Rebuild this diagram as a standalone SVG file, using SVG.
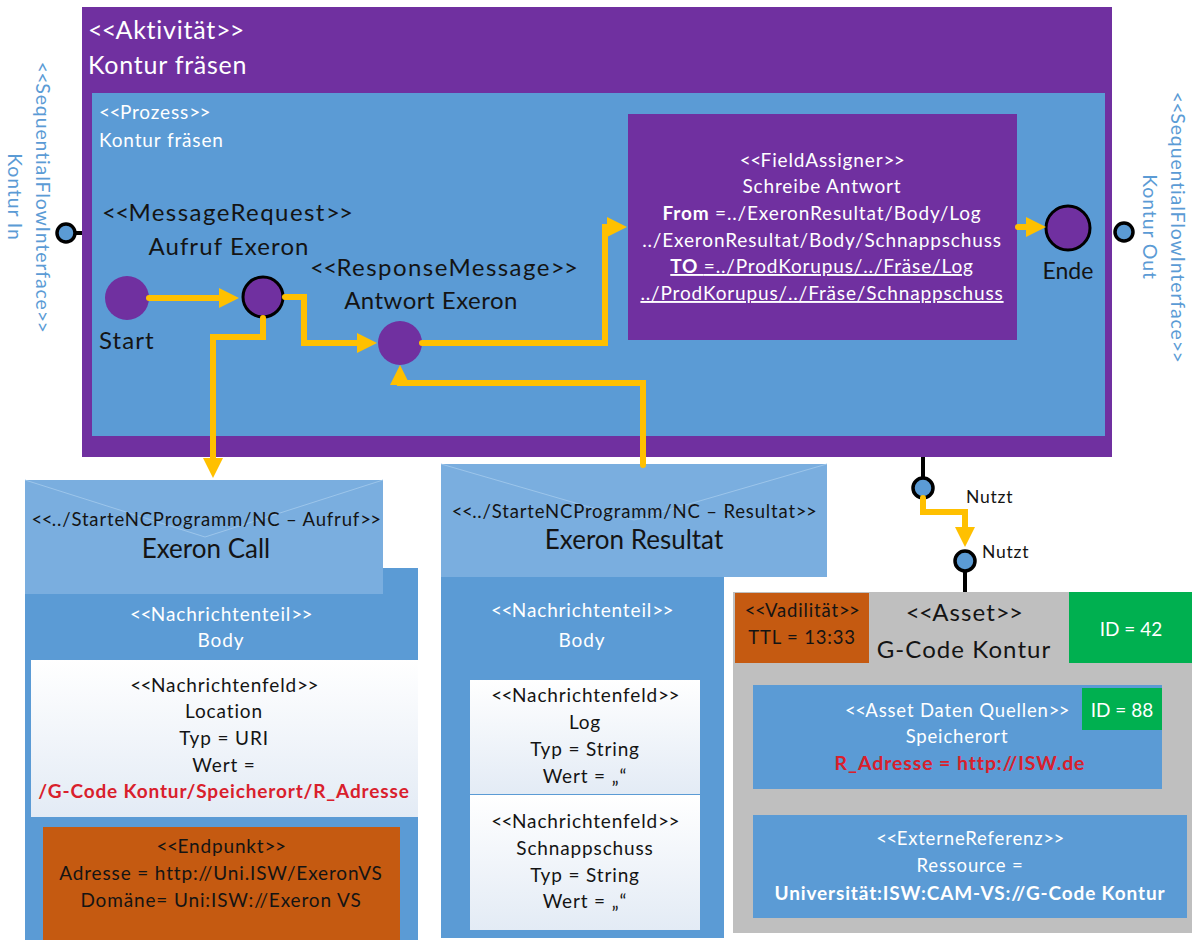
<svg xmlns="http://www.w3.org/2000/svg" width="1192" height="940" viewBox="0 0 1192 940">
  <defs>
    <style>
      text { font-family: Lato, "Liberation Sans", "Noto Sans", sans-serif; letter-spacing: 0.045em; }
      .b { letter-spacing: -0.03em; }
      .w { fill: #ffffff; }
      .d { fill: #141414; }
      .side { fill: #5B9BD5; font-size: 19.5px; }
      .c { text-anchor: middle; }
      .tight { letter-spacing: 0; }
      .flow { fill: none; stroke: #FFC000; stroke-width: 6; stroke-linecap: round; stroke-linejoin: miter; }
      .stub { stroke: #000; stroke-width: 4; }
      .port { fill: #5B9BD5; stroke: #000; stroke-width: 3.5; }
      .purple { fill: #7030A0; }
      .blue { fill: #5B9BD5; }
      .env { fill: #7AAEDF; }
      .flap { fill: none; stroke: #9CC5EA; stroke-width: 1; }
      .orange { fill: #C55A11; }
      .green { fill: #00B050; }
      .red { fill: #D9202C; font-weight: bold; }
    </style>
    <marker id="arrow" viewBox="0 0 20 20" markerWidth="20" markerHeight="20" refX="4" refY="10" markerUnits="userSpaceOnUse" orient="auto">
      <path d="M0,0 L20,10 L0,20 z" fill="#FFC000"/>
    </marker>
    <linearGradient id="field" x1="0" y1="0" x2="0" y2="1">
      <stop offset="0" stop-color="#FFFFFF"/>
      <stop offset="1" stop-color="#E3EBF5"/>
    </linearGradient>
  </defs>

  <rect width="1192" height="940" fill="#ffffff"/>

  <!-- Activity frame with nested process -->
  <g id="aktivitaet">
    <rect class="purple" x="82" y="7" width="1030" height="450"/>
    <text class="w" x="88" y="39" font-size="25" style="letter-spacing:0.03em"><tspan class="b">&lt;&lt;</tspan>Aktivität<tspan class="b">&gt;&gt;</tspan></text>
    <text class="w" x="88" y="74" font-size="25" style="letter-spacing:0.03em">Kontur fräsen</text>
  </g>
  <g id="prozess">
    <rect class="blue" x="92" y="93" width="1013" height="343"/>
    <text class="w" x="99" y="119" font-size="19"><tspan class="b">&lt;&lt;</tspan>Prozess<tspan class="b">&gt;&gt;</tspan></text>
    <text class="w" x="99" y="147" font-size="19">Kontur fräsen</text>
  </g>

  <!-- Interfaces -->
  <g id="interface-in">
    <line class="stub" x1="74" y1="233" x2="82" y2="233"/>
    <circle class="port" cx="66" cy="233" r="9"/>
    <text class="side c" transform="translate(36,197) rotate(90)"><tspan class="b">&lt;&lt;</tspan>SequentialFlowInterface<tspan class="b">&gt;&gt;</tspan></text>
    <text class="side c" transform="translate(8,197) rotate(90)">Kontur In</text>
  </g>
  <g id="interface-out">
    <circle class="port" cx="1124" cy="232" r="9"/>
    <text class="side c" transform="translate(1171,227) rotate(90)"><tspan class="b">&lt;&lt;</tspan>SequentialFlowInterface<tspan class="b">&gt;&gt;</tspan></text>
    <text class="side c" transform="translate(1143,227) rotate(90)">Kontur Out</text>
  </g>

  <!-- Process nodes -->
  <g id="start">
    <circle class="purple" cx="127" cy="298" r="22"/>
    <text class="d" x="99" y="349" font-size="24">Start</text>
  </g>
  <g id="aufruf-exeron">
    <circle class="purple" cx="263" cy="297" r="20" stroke="#000" stroke-width="3"/>
    <text class="d" x="102" y="221" font-size="24" style="letter-spacing:0.06em"><tspan class="b">&lt;&lt;</tspan>MessageRequest<tspan class="b">&gt;&gt;</tspan></text>
    <text class="d c" x="229" y="255" font-size="24">Aufruf Exeron</text>
  </g>
  <g id="antwort-exeron">
    <circle class="purple" cx="400" cy="343" r="22"/>
    <text class="d" x="310" y="276" font-size="24" style="letter-spacing:0.06em"><tspan class="b">&lt;&lt;</tspan>ResponseMessage<tspan class="b">&gt;&gt;</tspan></text>
    <text class="d c" x="431" y="309" font-size="24" style="letter-spacing:0.02em">Antwort Exeron</text>
  </g>
  <g id="schreibe-antwort">
    <rect class="purple" x="628" y="114" width="389" height="226"/>
    <text class="w c" x="822" y="167" font-size="19"><tspan class="b">&lt;&lt;</tspan>FieldAssigner<tspan class="b">&gt;&gt;</tspan></text>
    <text class="w c" x="822" y="193" font-size="19">Schreibe Antwort</text>
    <text class="w c" x="822" y="220" font-size="19"><tspan font-weight="bold">From </tspan>=../ExeronResultat/Body/Log</text>
    <text class="w c" x="822" y="247" font-size="19">../ExeronResultat/Body/Schnappschuss</text>
    <text class="w c" x="822" y="273" font-size="19" text-decoration="underline"><tspan font-weight="bold">TO </tspan>=../ProdKorupus/../Fräse/Log</text>
    <text class="w c" x="822" y="300" font-size="19" text-decoration="underline">../ProdKorupus/../Fräse/Schnappschuss</text>
  </g>
  <g id="ende">
    <circle class="purple" cx="1068" cy="228" r="22" stroke="#000" stroke-width="3"/>
    <text class="d c tight" x="1068" y="279" font-size="23">Ende</text>
  </g>

  <!-- Message: Exeron Call -->
  <g id="exeron-call">
    <rect class="blue" x="25" y="568" width="393" height="372"/>
    <rect class="env" x="25" y="480" width="358" height="114"/>
    <polyline class="flap" points="25,480 205,537 383,480"/>
    <text class="d c" x="206" y="526" font-size="18.5"><tspan class="b">&lt;&lt;</tspan>../StarteNCProgramm/NC – Aufruf<tspan class="b">&gt;&gt;</tspan></text>
    <text class="d c tight" x="206" y="558" font-size="26">Exeron Call</text>
    <text class="w c" x="221" y="621" font-size="19"><tspan class="b">&lt;&lt;</tspan>Nachrichtenteil<tspan class="b">&gt;&gt;</tspan></text>
    <text class="w c" x="221" y="647" font-size="19">Body</text>
  </g>
  <g id="feld-location">
    <rect x="31" y="660" width="387" height="157" fill="url(#field)"/>
    <text class="d c" x="224" y="692" font-size="19"><tspan class="b">&lt;&lt;</tspan>Nachrichtenfeld<tspan class="b">&gt;&gt;</tspan></text>
    <text class="d c" x="224" y="718" font-size="19">Location</text>
    <text class="d c" x="224" y="745" font-size="19">Typ = URI</text>
    <text class="d c" x="224" y="772" font-size="19">Wert =</text>
    <text class="red c" x="224" y="798" font-size="19">/G-Code Kontur/Speicherort/R_Adresse</text>
  </g>
  <g id="endpunkt">
    <rect class="orange" x="43" y="827" width="357" height="113"/>
    <text class="d c" x="221" y="853" font-size="19"><tspan class="b">&lt;&lt;</tspan>Endpunkt<tspan class="b">&gt;&gt;</tspan></text>
    <text class="d c" x="221" y="880" font-size="19">Adresse = http://Uni.ISW/ExeronVS</text>
    <text class="d c" x="221" y="907" font-size="19">Domäne= Uni:ISW://Exeron VS</text>
  </g>

  <!-- Message: Exeron Resultat -->
  <g id="exeron-resultat">
    <rect class="blue" x="441" y="577" width="283" height="361"/>
    <rect class="env" x="441" y="464" width="386" height="113"/>
    <polyline class="flap" points="441,464 634,520 827,464"/>
    <text class="d c" x="634" y="518" font-size="18.5"><tspan class="b">&lt;&lt;</tspan>../StarteNCProgramm/NC – Resultat<tspan class="b">&gt;&gt;</tspan></text>
    <text class="d c tight" x="634" y="549" font-size="26">Exeron Resultat</text>
    <text class="w c" x="582" y="617" font-size="19"><tspan class="b">&lt;&lt;</tspan>Nachrichtenteil<tspan class="b">&gt;&gt;</tspan></text>
    <text class="w c" x="582" y="647" font-size="19">Body</text>
  </g>
  <g id="feld-log">
    <rect x="470" y="680" width="230" height="114" fill="url(#field)"/>
    <text class="d c" x="585" y="702" font-size="19"><tspan class="b">&lt;&lt;</tspan>Nachrichtenfeld<tspan class="b">&gt;&gt;</tspan></text>
    <text class="d c" x="585" y="729" font-size="19">Log</text>
    <text class="d c" x="585" y="756" font-size="19">Typ = String</text>
    <text class="d c" x="585" y="783" font-size="19">Wert = „“</text>
  </g>
  <g id="feld-schnappschuss">
    <rect x="470" y="795" width="230" height="135" fill="url(#field)"/>
    <text class="d c" x="585" y="828" font-size="19"><tspan class="b">&lt;&lt;</tspan>Nachrichtenfeld<tspan class="b">&gt;&gt;</tspan></text>
    <text class="d c" x="585" y="855" font-size="19">Schnappschuss</text>
    <text class="d c" x="585" y="882" font-size="19">Typ = String</text>
    <text class="d c" x="585" y="908" font-size="19">Wert = „“</text>
  </g>

  <!-- Asset -->
  <g id="asset">
    <rect x="733" y="592" width="459" height="341" fill="#BFBFBF"/>
    <text class="d c" x="964" y="621" font-size="24"><tspan class="b">&lt;&lt;</tspan>Asset<tspan class="b">&gt;&gt;</tspan></text>
    <text class="d c" x="964" y="658" font-size="24">G-Code Kontur</text>
  </g>
  <g id="vadilitaet">
    <rect class="orange" x="735" y="593" width="134" height="70"/>
    <text class="d c" x="802" y="617" font-size="18.5"><tspan class="b">&lt;&lt;</tspan>Vadilität<tspan class="b">&gt;&gt;</tspan></text>
    <text class="d c" x="802" y="644" font-size="18.5">TTL = 13:33</text>
  </g>
  <g id="id-42">
    <rect class="green" x="1069" y="592" width="123" height="71"/>
    <text class="w c tight" x="1131" y="636" font-size="19">ID = 42</text>
  </g>
  <g id="speicherort">
    <rect class="blue" x="753" y="685" width="409" height="104"/>
    <text class="w c" x="957" y="717" font-size="18.5"><tspan class="b">&lt;&lt;</tspan>Asset Daten Quellen<tspan class="b">&gt;&gt;</tspan></text>
    <text class="w c" x="957" y="743" font-size="18.5">Speicherort</text>
    <text class="red c" x="960" y="770" font-size="19.5">R_Adresse = http://ISW.de</text>
  </g>
  <g id="id-88">
    <rect class="green" x="1082" y="688" width="80" height="42"/>
    <text class="w c tight" x="1122" y="717" font-size="19">ID = 88</text>
  </g>
  <g id="externe-referenz">
    <rect class="blue" x="753" y="815" width="434" height="103"/>
    <text class="w c" x="970" y="845" font-size="18.5"><tspan class="b">&lt;&lt;</tspan>ExterneReferenz<tspan class="b">&gt;&gt;</tspan></text>
    <text class="w c" x="970" y="872" font-size="18.5">Ressource =</text>
    <text class="w c" x="970" y="900" font-size="19" font-weight="bold">Universität:ISW:CAM-VS://G-Code Kontur</text>
  </g>

  <!-- Usage ports between activity and asset -->
  <g id="nutzt-ports">
    <line class="stub" x1="923" y1="457" x2="923" y2="478"/>
    <circle class="port" cx="923" cy="488" r="10"/>
    <line class="stub" x1="965" y1="571" x2="965" y2="592"/>
    <circle class="port" cx="965" cy="561" r="10"/>
    <text class="d" x="966" y="503" font-size="17.5">Nutzt</text>
    <text class="d" x="982" y="558" font-size="17.5">Nutzt</text>
  </g>

  <!-- Connectors -->
  <g id="connectors">
    <path class="flow" d="M149,298 H223" marker-end="url(#arrow)"/>
    <path class="flow" d="M285,297 H304 V343 H361" marker-end="url(#arrow)"/>
    <path class="flow" d="M422,343 H605 V227 H611" marker-end="url(#arrow)"/>
    <path class="flow" d="M1018,227 H1030" marker-end="url(#arrow)"/>
    <path class="flow" d="M263,318 V337 H213 V462" marker-end="url(#arrow)"/>
    <path class="flow" d="M643,465 V383 H400 V381" marker-end="url(#arrow)"/>
    <path class="flow" d="M923,498 V512 H965 V531" marker-end="url(#arrow)"/>
  </g>
</svg>
